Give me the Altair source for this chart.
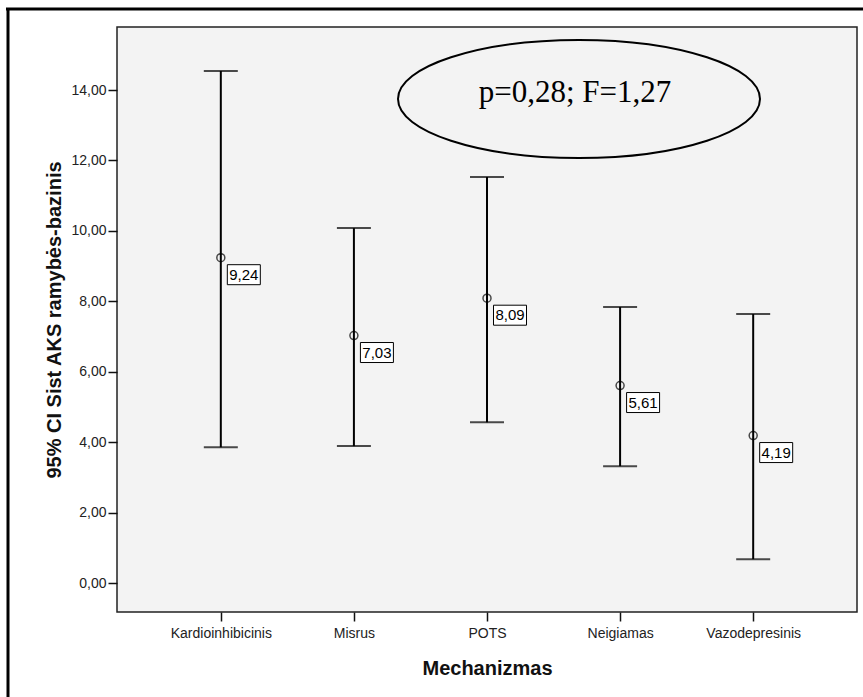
import altair as alt
import pandas as pd

categories = ["Kardioinhibicinis", "Misrus", "POTS", "Neigiamas", "Vazodepresinis"]
means = [9.24, 7.03, 8.09, 5.61, 4.19]
lower = [3.86, 3.89, 4.57, 3.32, 0.68]
upper = [14.54, 10.08, 11.53, 7.84, 7.64]
y_ticks = [0, 2, 4, 6, 8, 10, 12, 14]
annotation = "p=0,28; F=1,27"

df = pd.DataFrame({"cat": categories, "mean": means, "lo": lower, "hi": upper})
one = pd.DataFrame({"a": [0]})

W, H = 740, 585
PL, PT = 117, 27

xenc = alt.X("cat:N", sort=categories,
             scale=alt.Scale(type="point", padding=0.78),
             axis=alt.Axis(title="Mechanizmas", labelAngle=0, domain=False,
                           tickSize=9, tickWidth=1.5, tickColor="#111",
                           labelFont="Liberation Sans", labelFontSize=14,
                           labelColor="#222", labelPadding=5,
                           titleFont="Liberation Sans", titleFontSize=20,
                           titleFontWeight="bold", titleColor="#111",
                           titlePadding=18))
yscale = alt.Scale(domain=[-0.82, 15.79], nice=False, zero=False)
yaxis = alt.Axis(title="95% CI Sist AKS ramybės-bazinis", values=y_ticks,
                 labelExpr="replace(format(datum.value, '.2f'), '.', ',')",
                 domain=False, grid=False, tickSize=9, tickWidth=1.5,
                 tickColor="#111", labelFont="Liberation Sans",
                 labelFontSize=14, labelColor="#222", labelPadding=2,
                 titleFont="Liberation Sans", titleFontSize=20,
                 titleFontWeight="bold", titleColor="#111", titlePadding=6)

base = alt.Chart(df)

whisk = base.mark_rule(color="black", strokeWidth=2).encode(
    x=xenc, y=alt.Y("lo:Q", scale=yscale, axis=yaxis), y2="hi:Q")
cap_hi = base.mark_tick(color="black", thickness=2, size=34, orient="horizontal").encode(
    x=alt.X("cat:N", sort=categories), y=alt.Y("hi:Q"))
cap_lo = base.mark_tick(color="black", thickness=2, size=34, orient="horizontal").encode(
    x=alt.X("cat:N", sort=categories), y=alt.Y("lo:Q"))
pts = base.mark_point(shape="circle", filled=False, size=64, color="black",
                      strokeWidth=1.5).encode(
    x=alt.X("cat:N", sort=categories), y=alt.Y("mean:Q"))
boxes = base.mark_point(shape="M-1,-0.606H1V0.606H-1Z", filled=True, fill="white",
                        stroke="black", strokeWidth=1, opacity=1, fillOpacity=1,
                        size=1089, xOffset=23, yOffset=17).encode(
    x=alt.X("cat:N", sort=categories), y=alt.Y("mean:Q"))
labels = base.transform_calculate(
    lab="replace(format(datum.mean, '.2f'), '.', ',')"
).mark_text(font="Liberation Sans", fontSize=15, color="black", dx=23, dy=17,
            baseline="middle", align="center").encode(
    x=alt.X("cat:N", sort=categories), y=alt.Y("mean:Q"), text="lab:N")

ellipse = alt.Chart(one).mark_point(
    shape="M-1,0A1,0.326,0,1,0,1,0A1,0.326,0,1,0,-1,0Z", filled=False,
    color="black", strokeWidth=2, size=131044, opacity=1).encode(
    x=alt.value(579 - PL), y=alt.value(99 - PT))
ann = alt.Chart(one).mark_text(font="Liberation Serif", fontSize=31, color="black",
                               baseline="alphabetic", align="center").encode(
    x=alt.value(575 - PL), y=alt.value(102 - PT), text=alt.value(annotation))

frame_top = alt.Chart(one).mark_rule(color="black", strokeWidth=3).encode(
    x=alt.value(6 - PL), x2=alt.value(863 - PL), y=alt.value(9 - PT))
frame_left = alt.Chart(one).mark_rule(color="black", strokeWidth=3).encode(
    x=alt.value(8 - PL), y=alt.value(8 - PT), y2=alt.value(697 - PT))

chart = alt.layer(whisk, cap_hi, cap_lo, pts, boxes, labels, ellipse, ann,
                  frame_top, frame_left).properties(
    width=W, height=H,
    autosize=alt.AutoSizeParams(type="none"),
    padding={"left": PL, "top": PT, "right": 863 - PL - W, "bottom": 697 - PT - H},
    background="white",
).configure_view(fill="#f3f3f3", stroke="#222", strokeWidth=1.5)

chart.save("out.html", embed_options={"renderer": "svg", "actions": False})
